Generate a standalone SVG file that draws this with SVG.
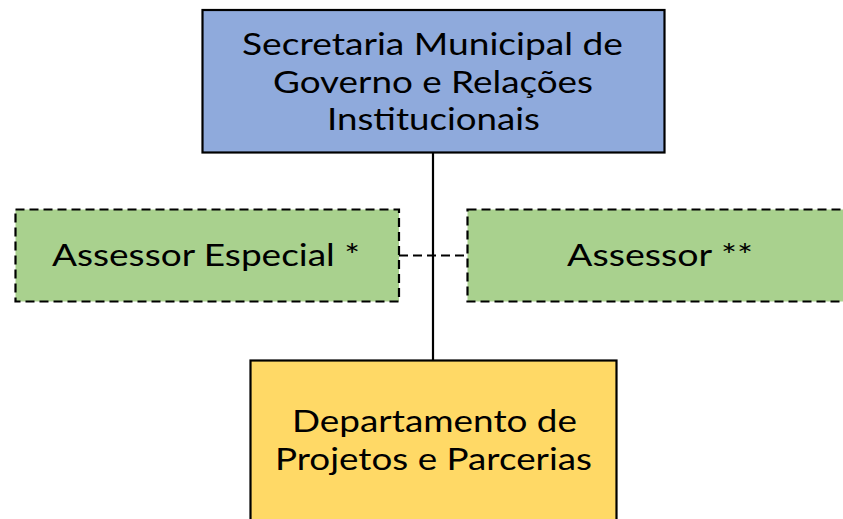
<svg xmlns="http://www.w3.org/2000/svg" width="843" height="519" viewBox="0 0 843 519">
<style>
.box{stroke:#000;stroke-width:2.2}
.dash{stroke:#000;stroke-width:2.2;stroke-dasharray:9 5}
.t{font-family:Lato,"Open Sans",sans-serif;font-size:31px;fill:#000;text-anchor:middle}
</style>
<rect width="843" height="519" fill="#fff"/>
<g id="connectors" fill="none">
<line x1="433" y1="153" x2="433" y2="360" stroke="#000" stroke-width="2.2"/>
<line x1="399" y1="255.5" x2="467" y2="255.5" class="dash"/>
</g>
<g id="secretaria">
<rect x="202.5" y="10" width="462" height="142.5" fill="#8FAADC" class="box"/>
<text class="t" x="432.5" y="55" textLength="381" lengthAdjust="spacingAndGlyphs">Secretaria Municipal de</text>
<text class="t" x="433" y="92.5" textLength="320" lengthAdjust="spacingAndGlyphs">Governo e Relações</text>
<text class="t" x="433.5" y="130" textLength="213" lengthAdjust="spacingAndGlyphs">Institucionais</text>
</g>
<g id="assessor-especial">
<rect x="15.5" y="209.5" width="383.5" height="92" fill="#A9D18E" class="dash"/>
<text class="t" x="206" y="265.5" textLength="308" lengthAdjust="spacingAndGlyphs">Assessor Especial *</text>
</g>
<g id="assessor">
<rect x="467.5" y="209.5" width="385" height="92" fill="#A9D18E" class="dash"/>
<text class="t" x="660" y="265.5" textLength="186" lengthAdjust="spacingAndGlyphs">Assessor **</text>
</g>
<g id="departamento">
<rect x="250.5" y="360.5" width="366" height="170" fill="#FFD966" class="box"/>
<text class="t" x="434.5" y="432" textLength="285" lengthAdjust="spacingAndGlyphs">Departamento de</text>
<text class="t" x="433.5" y="470" textLength="317" lengthAdjust="spacingAndGlyphs">Projetos e Parcerias</text>
</g>
</svg>
